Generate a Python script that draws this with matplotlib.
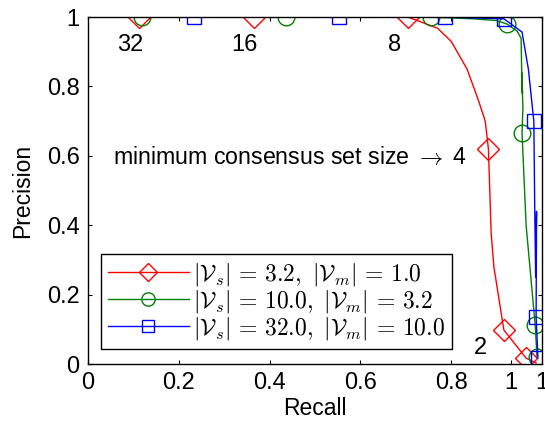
import matplotlib
matplotlib.use('Agg')
import matplotlib.pyplot as plt

plt.rcParams['font.family'] = ['Liberation Sans', 'DejaVu Sans']
plt.rcParams['mathtext.fontset'] = 'cm'

# Curve data (recall, precision)
red_recall = [0.0, 0.112, 0.365, 0.705, 0.77, 0.80, 0.835, 0.86, 0.875, 0.882,
              0.885, 0.888, 0.894, 0.916, 0.965, 0.987]
red_prec = [1.0, 1.0, 1.0, 1.0, 0.968, 0.93, 0.85, 0.76, 0.70, 0.619,
            0.50, 0.377, 0.28, 0.098, 0.017, 0.003]
red_marks = [1, 2, 3, 9, 13, 14]

green_recall = [0.0, 0.119, 0.437, 0.756, 0.85, 0.90, 0.923, 0.945, 0.954,
                0.955, 0.957, 0.955, 0.958, 0.956, 0.965, 0.985, 0.989]
green_prec = [1.0, 1.0, 1.0, 1.0, 0.995, 0.99, 0.98, 0.96, 0.939,
              0.86, 0.78, 0.84, 0.74, 0.666, 0.40, 0.112, 0.02]
green_marks = [1, 2, 3, 6, 13, 15, 16]

blue_recall = [0.0, 0.233, 0.552, 0.787, 0.916, 0.956, 0.97, 0.982, 0.984,
               0.986, 0.988, 0.987, 0.989, 0.991]
blue_prec = [1.0, 1.0, 1.0, 1.0, 0.995, 0.957, 0.85, 0.70, 0.45,
             0.25, 0.44, 0.135, 0.08, 0.017]
blue_marks = [1, 2, 3, 4, 7, 11, 13]

labels = [r'$|\mathcal{V}_s|\,=\,3.2,\ |\mathcal{V}_m|\,=\,1.0$',
          r'$|\mathcal{V}_s|\,=\,10.0,\ |\mathcal{V}_m|\,=\,3.2$',
          r'$|\mathcal{V}_s|\,=\,32.0,\ |\mathcal{V}_m|\,=\,10.0$']

size_labels = ['32', '16', '8', '2']
size_x = [0.092, 0.345, 0.675, 0.864]
size_y = [0.92, 0.92, 0.92, 0.046]

xticks = [0, 0.2, 0.4, 0.6, 0.8, 0.932, 1.0]
xticklabels = ['0', '0.2', '0.4', '0.6', '0.8', '1', '1']
yticks = [0, 0.2, 0.4, 0.6, 0.8, 1.0]
yticklabels = ['0', '0.2', '0.4', '0.6', '0.8', '1']

fig = plt.figure(figsize=(5.45, 4.28), dpi=100)
ax = fig.add_axes([0.1615, 0.1495, 0.833, 0.8105])

ax.plot(red_recall, red_prec, color='red', lw=1.0, marker='D', markevery=red_marks,
        ms=11, mfc='none', mec='red', mew=1.0, label=labels[0])
ax.plot(green_recall, green_prec, color='green', lw=1.0, marker='o', markevery=green_marks,
        ms=12, mfc='none', mec='green', mew=1.0, label=labels[1])
ax.plot(blue_recall, blue_prec, color='blue', lw=1.0, marker='s', markevery=blue_marks,
        ms=10, mfc='none', mec='blue', mew=1.0, label=labels[2])

for t, x, y in zip(size_labels, size_x, size_y):
    ax.text(x, y, t, fontsize=17, ha='center', va='center')
ax.text(0.055, 0.594, r'minimum consensus set size $\rightarrow$ 4', fontsize=16.7,
        ha='left', va='center')

ax.set_xlim(0, 1.0)
ax.set_ylim(0, 1.0)
ax.set_xticks(xticks)
ax.set_xticklabels(xticklabels)
ax.set_yticks(yticks)
ax.set_yticklabels(yticklabels)
ax.tick_params(direction='in', top=True, right=True, length=3, labelsize=17, pad=6)
ax.set_xlabel('Recall', fontsize=16.5, labelpad=2)
ax.set_ylabel('Precision', fontsize=16.5, labelpad=9)
for s in ax.spines.values():
    s.set_linewidth(1.0)

leg = ax.legend(loc='lower left', bbox_to_anchor=(0.029, 0.043), fontsize=17,
                frameon=True, fancybox=False, edgecolor='black', framealpha=1,
                markerscale=0.8, handlelength=3.4, borderpad=0.3, labelspacing=0.0,
                handletextpad=0.2, borderaxespad=0)
leg.get_frame().set_linewidth(1.0)

fig.savefig('out.png', dpi=100)
